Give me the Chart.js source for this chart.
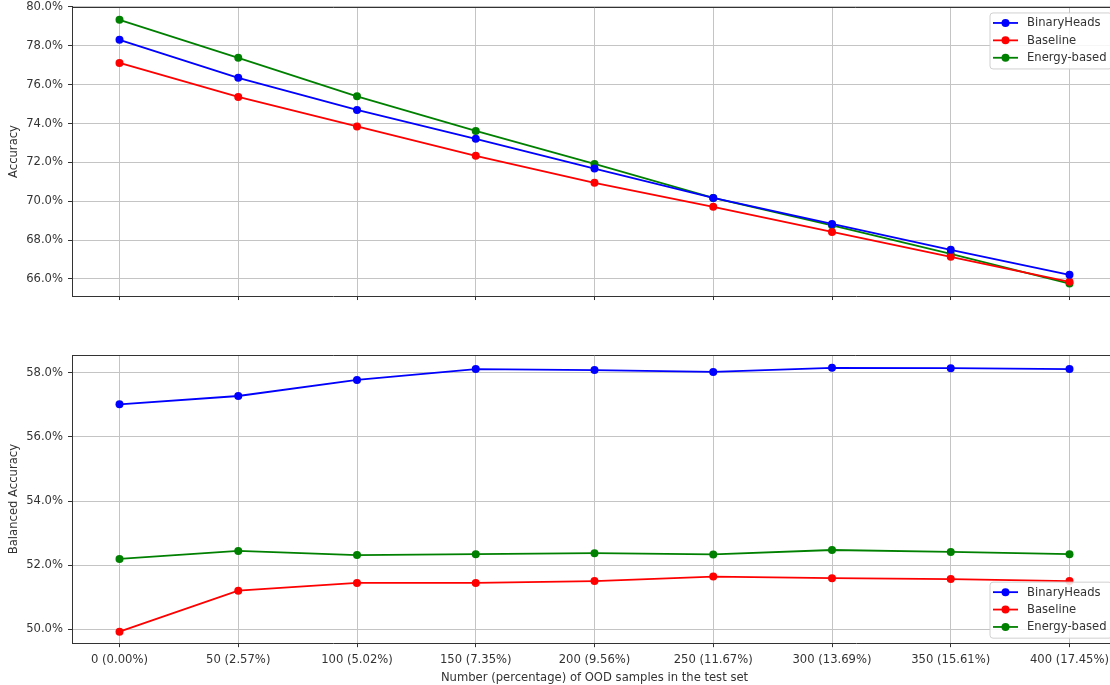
<!DOCTYPE html>
<html>
<head>
<meta charset="utf-8">
<script src="https://cdn.jsdelivr.net/npm/chart.js@4.4.0/dist/chart.umd.min.js"></script>
<style>
  html, body { margin: 0; padding: 0; background: #fff; overflow: hidden; width: 1110px; height: 685px; }
  canvas { position: absolute; left: 0; }
  #accChart { top: -5px; }
  #balChart { top: 340px; }
</style>
</head>
<body>
<canvas id="accChart" width="1121" height="313"></canvas>
<canvas id="balChart" width="1121" height="345"></canvas>
<script>
// x categories (number and percentage of OOD samples)
const categories = ['0 (0.00%)', '50 (2.57%)', '100 (5.02%)', '150 (7.35%)', '200 (9.56%)',
  '250 (11.67%)', '300 (13.69%)', '350 (15.61%)', '400 (17.45%)'];

// top panel: accuracy (%)
const accBinaryHeads = [78.31, 76.35, 74.70, 73.21, 71.68, 70.17, 68.83, 67.50, 66.21];
const accBaseline = [77.12, 75.37, 73.85, 72.34, 70.95, 69.71, 68.42, 67.14, 65.85];
const accEnergy = [79.34, 77.38, 75.40, 73.62, 71.92, 70.17, 68.76, 67.29, 65.76];
const accTicks = [66, 68, 70, 72, 74, 76, 78, 80];

// bottom panel: balanced accuracy (%)
const balBinaryHeads = [57.02, 57.28, 57.78, 58.12, 58.09, 58.03, 58.16, 58.15, 58.12];
const balBaseline = [49.92, 51.20, 51.44, 51.44, 51.50, 51.64, 51.59, 51.56, 51.50];
const balEnergy = [52.19, 52.44, 52.31, 52.34, 52.37, 52.33, 52.47, 52.41, 52.34];
const balTicks = [50, 52, 54, 56, 58];

const seriesNames = ['BinaryHeads', 'Baseline', 'Energy-based'];
const seriesColors = ['#0000ff', '#ff0000', '#008000'];

Chart.defaults.font.family = 'DejaVu Sans';
Chart.defaults.font.size = 11.6;
Chart.defaults.color = '#333';

const gridColor = '#c4c4c4';
const spineColor = '#333';

function makeDatasets(lists) {
  return lists.map((vals, i) => ({
    label: seriesNames[i],
    data: vals.map((v, k) => ({ x: k, y: v })),
    borderColor: seriesColors[i],
    backgroundColor: seriesColors[i],
    borderWidth: 1.8,
    pointRadius: 4,
    pointHoverRadius: 4,
    pointBorderWidth: 0,
    tension: 0
  }));
}

// top spine + matplotlib-like legend box
const framePlugin = {
  id: 'frame',
  afterDraw(chart, args, opts) {
    const ctx = chart.ctx;
    const a = chart.chartArea;
    ctx.save();
    ctx.strokeStyle = spineColor;
    ctx.lineWidth = 1;
    ctx.beginPath();
    ctx.moveTo(a.left, Math.round(a.top) + 0.5);
    ctx.lineTo(a.right, Math.round(a.top) + 0.5);
    ctx.stroke();

    const w = 122, h = 56, pad = 5.5;
    const x = a.right - pad - w;
    const y = opts.corner === 'upper' ? a.top + pad : a.bottom - pad - h;
    ctx.fillStyle = 'rgba(255,255,255,0.85)';
    ctx.strokeStyle = '#d0d0d0';
    ctx.beginPath();
    ctx.roundRect(x + 0.5, y + 0.5, w, h, 3);
    ctx.fill();
    ctx.stroke();

    ctx.font = '11.6px "DejaVu Sans"';
    ctx.textBaseline = 'middle';
    chart.data.datasets.forEach((ds, i) => {
      const cy = y + 10.5 + i * 17.4;
      ctx.strokeStyle = ds.borderColor;
      ctx.lineWidth = 1.8;
      ctx.beginPath();
      ctx.moveTo(x + 3.5, cy);
      ctx.lineTo(x + 28.5, cy);
      ctx.stroke();
      ctx.fillStyle = ds.borderColor;
      ctx.beginPath();
      ctx.arc(x + 16, cy, 4, 0, Math.PI * 2);
      ctx.fill();
      ctx.fillStyle = '#333';
      ctx.fillText(ds.label, x + 37.5, cy + 0.5);
    });
    ctx.restore();
  }
};

function makeOptions(cfg) {
  return {
    responsive: false,
    animation: false,
    events: [],
    layout: { padding: cfg.padding },
    plugins: {
      legend: { display: false },
      tooltip: { enabled: false },
      frame: { corner: cfg.corner }
    },
    scales: {
      x: {
        type: 'linear',
        min: -0.4,
        max: 8.4,
        afterBuildTicks: (axis) => { axis.ticks = categories.map((c, k) => ({ value: k })); },
        ticks: {
          display: cfg.showX,
          padding: 6,
          maxRotation: 0,
          autoSkip: false,
          callback: (v) => categories[v]
        },
        grid: { color: gridColor, lineWidth: 1, tickLength: 4, tickColor: spineColor },
        border: { color: spineColor, width: 1 },
        title: {
          display: cfg.showX,
          text: 'Number (percentage) of OOD samples in the test set',
          padding: { top: -2, bottom: 0 }
        }
      },
      y: {
        min: cfg.yMin,
        max: cfg.yMax,
        afterBuildTicks: (axis) => { axis.ticks = cfg.yTicks.map(v => ({ value: v })); },
        afterFit: (axis) => { axis.width = 72; },
        ticks: {
          padding: 5,
          callback: (v) => v.toFixed(1) + '%'
        },
        grid: { color: gridColor, lineWidth: 1, tickLength: 4, tickColor: spineColor },
        border: { color: spineColor, width: 1 },
        title: { display: true, text: cfg.yTitle, padding: { top: 7, bottom: 0 } }
      }
    }
  };
}

new Chart(document.getElementById('accChart'), {
  type: 'line',
  data: { datasets: makeDatasets([accBinaryHeads, accBaseline, accEnergy]) },
  options: makeOptions({
    padding: { top: 2.5, bottom: 5, left: 0, right: 0 },
    corner: 'upper', showX: false,
    yMin: 65.12, yMax: 80.0, yTicks: accTicks, yTitle: 'Accuracy'
  }),
  plugins: [framePlugin]
});

new Chart(document.getElementById('balChart'), {
  type: 'line',
  data: { datasets: makeDatasets([balBinaryHeads, balBaseline, balEnergy]) },
  options: makeOptions({
    padding: { top: 15, bottom: 0, left: 0, right: 0 },
    corner: 'lower', showX: true,
    yMin: 49.56, yMax: 58.56, yTicks: balTicks, yTitle: 'Balanced Accuracy'
  }),
  plugins: [framePlugin]
});
</script>
</body>
</html>
